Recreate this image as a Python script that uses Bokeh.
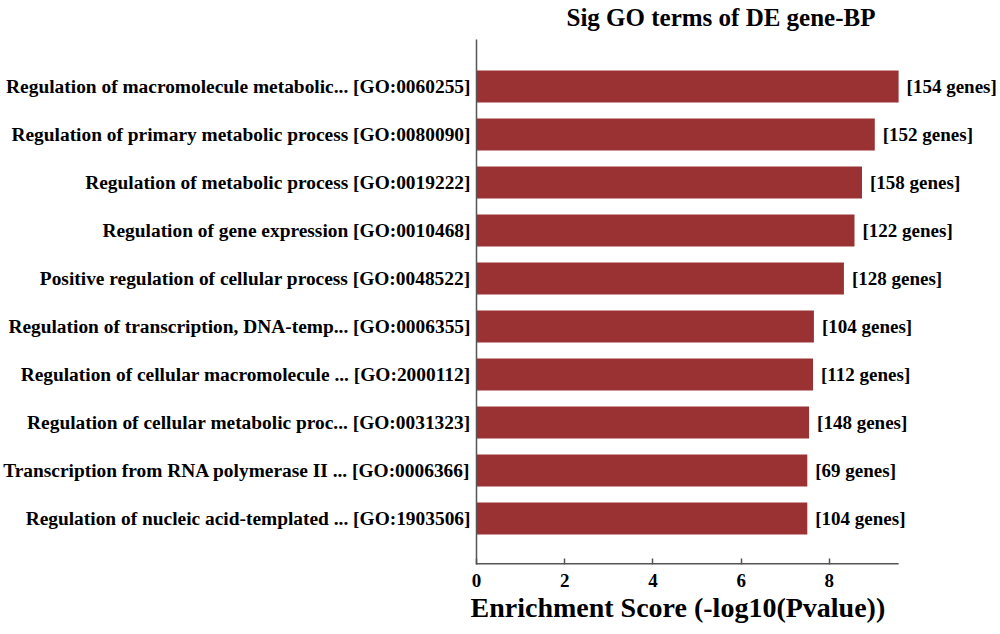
from bokeh.plotting import figure
from bokeh.models import Range1d, FixedTicker, LabelSet, ColumnDataSource, Title
from bokeh.embed import file_html
from bokeh.resources import INLINE

terms = [
    "Regulation of macromolecule metabolic... [GO:0060255]",
    "Regulation of primary metabolic process [GO:0080090]",
    "Regulation of metabolic process [GO:0019222]",
    "Regulation of gene expression [GO:0010468]",
    "Positive regulation of cellular process [GO:0048522]",
    "Regulation of transcription, DNA-temp... [GO:0006355]",
    "Regulation of cellular macromolecule ... [GO:2000112]",
    "Regulation of cellular metabolic proc... [GO:0031323]",
    "Transcription from RNA polymerase II ... [GO:0006366]",
    "Regulation of nucleic acid-templated ... [GO:1903506]",
]
scores = [9.57, 9.03, 8.74, 8.57, 8.33, 7.65, 7.63, 7.54, 7.50, 7.50]
genes = [154, 152, 158, 122, 128, 104, 112, 148, 69, 104]
x_ticks = [0, 2, 4, 6, 8]
x_axis_end = 9.57

n = len(terms)
pos = [n - i for i in range(n)]
gene_labels = ["[%d genes]" % g for g in genes]

src = ColumnDataSource(dict(y=pos, score=scores, lab=gene_labels))

FONT = "Liberation Serif"
BAR = "#9a3234"
AX = "#555555"
Y0 = 0.04

p = figure(width=1000, height=634, output_backend="svg", toolbar_location=None,
           x_range=Range1d(0, 11.88), y_range=Range1d(Y0, 10.98),
           min_border_left=476, min_border_right=0, min_border_top=39,
           min_border_bottom=70)

p.hbar(y="y", right="score", left=0, height=0.667, source=src,
       fill_color=BAR, line_color=None)

# x axis line only up to the end of the data range
p.segment(x0=[0], y0=[Y0], x1=[x_axis_end], y1=[Y0], line_color=AX, line_width=3)

labels = LabelSet(x="score", y="y", text="lab", source=src, x_offset=8,
                  text_baseline="middle", text_align="left",
                  text_font=FONT, text_font_style="bold", text_font_size="19px",
                  text_color="black")
p.add_layout(labels)

p.title = None
spacer = Title(text=" ", text_font_size="2px", standoff=5)
p.add_layout(spacer, "above")
main_title = Title(text="Sig GO terms of DE gene-BP", align="left", offset=90,
                   text_font=FONT, text_font_style="bold", text_font_size="25px",
                   text_color="black", standoff=0)
p.add_layout(main_title, "above")

xlab = Title(text="Enrichment Score (-log10(Pvalue))", align="left", offset=-6,
             text_font=FONT, text_font_style="bold", text_font_size="28px",
             text_color="black", standoff=0)
p.add_layout(xlab, "below")

p.xgrid.visible = False
p.ygrid.visible = False
p.outline_line_color = None

xa = p.xaxis[0]
xa.ticker = FixedTicker(ticks=x_ticks)
xa.major_label_text_font = FONT
xa.major_label_text_font_style = "bold"
xa.major_label_text_font_size = "19px"
xa.major_label_text_color = "black"
xa.major_label_standoff = 9
xa.major_tick_in = 6
xa.major_tick_out = 0
xa.minor_tick_in = 0
xa.minor_tick_out = 0
xa.axis_line_color = None
xa.major_tick_line_color = AX
xa.major_tick_line_width = 1.5

ya = p.yaxis[0]
ya.ticker = FixedTicker(ticks=pos)
ya.major_label_overrides = {pv: t for pv, t in zip(pos, terms)}
ya.major_label_text_font = FONT
ya.major_label_text_font_style = "bold"
ya.major_label_text_font_size = "19.4px"
ya.major_label_text_color = "black"
ya.major_label_standoff = 6
ya.major_tick_in = 0
ya.major_tick_out = 0
ya.minor_tick_in = 0
ya.minor_tick_out = 0
ya.axis_line_color = AX
ya.axis_line_width = 1.5

open("out.html", "w").write(file_html(p, INLINE))
